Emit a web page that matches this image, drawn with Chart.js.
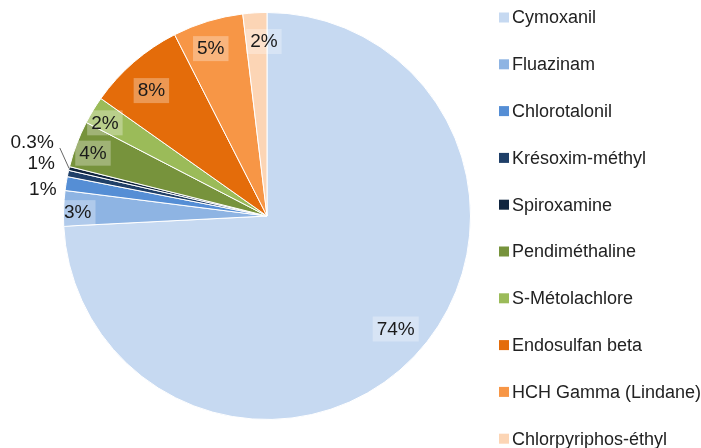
<!DOCTYPE html>
<html>
<head>
<meta charset="utf-8">
<script src="https://cdn.jsdelivr.net/npm/chart.js@4.4.1/dist/chart.umd.min.js"></script>
<style>
  html, body { margin: 0; padding: 0; background: #fff; }
  #wrap { width: 701px; height: 448px; position: relative; }
</style>
</head>
<body>
<div id="wrap"><canvas id="pie"></canvas></div>
<script>
// données
const substances = ['Cymoxanil', 'Fluazinam', 'Chlorotalonil', 'Krésoxim-méthyl', 'Spiroxamine',
    'Pendiméthaline', 'S-Métolachlore', 'Endosulfan beta', 'HCH Gamma (Lindane)', 'Chlorpyriphos-éthyl'];
const shares = [74.2, 2.8, 1.1, 0.5, 0.3, 3.7, 2.2, 7.7, 5.6, 1.9];
const shareLabels = ['74%', '3%', '1%', '1%', '0.3%', '4%', '2%', '8%', '5%', '2%'];
const colors = ['#C6D9F1', '#8EB4E3', '#558ED5', '#1F3F68', '#10253F',
    '#77933C', '#9BBB59', '#E46C0A', '#F79646', '#FCD5B5'];

// placement des étiquettes (fraction du rayon, décalage angulaire en degrés)
const labelPlace = [
    { r: 0.84, da: -2.4 }, { r: 0.93, da: -1 },
    { r: 1.11, da: -2.2, out: true }, { r: 1.14, da: 1.2, out: true }, { r: 1.21, da: 4, out: true, leader: true },
    { r: 0.91, da: -0.7 }, { r: 0.92, da: -1.3 }, { r: 0.84, da: -1.7 }, { r: 0.87, da: -1.6 }, { r: 0.86, da: 2.4 }
];

const FONT = '"Liberation Sans", Arial, sans-serif';

const sliceLabels = {
    id: 'sliceLabels',
    afterDatasetsDraw(chart) {
        const ctx = chart.ctx;
        const meta = chart.getDatasetMeta(0);
        ctx.save();
        ctx.font = '19px ' + FONT;
        ctx.textAlign = 'center';
        ctx.textBaseline = 'middle';
        meta.data.forEach((arc, i) => {
            const p = labelPlace[i];
            const mid = (arc.startAngle + arc.endAngle) / 2 + (p.da || 0) * Math.PI / 180;
            const x = arc.x + Math.cos(mid) * arc.outerRadius * p.r;
            const y = arc.y + Math.sin(mid) * arc.outerRadius * p.r;
            const txt = shareLabels[i];
            const w = ctx.measureText(txt).width;
            if (!p.out) {
                ctx.fillStyle = 'rgba(255,255,255,0.3)';
                ctx.fillRect(x - w / 2 - 4, y - 12, w + 8, 25);
            }
            if (p.leader) {
                const a2 = (arc.startAngle + arc.endAngle) / 2;
                ctx.strokeStyle = '#666';
                ctx.lineWidth = 1;
                ctx.beginPath();
                ctx.moveTo(x + w / 2 + 6, y + 6);
                ctx.lineTo(arc.x + Math.cos(a2) * arc.outerRadius, arc.y + Math.sin(a2) * arc.outerRadius);
                ctx.stroke();
            }
            ctx.fillStyle = '#1a1a1a';
            ctx.fillText(txt, x, y + 1);
        });
        ctx.restore();
    }
};

const sideLegend = {
    id: 'sideLegend',
    afterDraw(chart) {
        const ctx = chart.ctx;
        const ds = chart.data.datasets[0];
        ctx.save();
        ctx.font = '18px ' + FONT;
        ctx.textBaseline = 'middle';
        chart.data.labels.forEach((lab, i) => {
            const y = 17.5 + i * 46.8;
            ctx.fillStyle = ds.backgroundColor[i];
            ctx.fillRect(499, y - 5, 10, 10);
            ctx.fillStyle = '#222';
            ctx.fillText(lab, 512, y + 1);
        });
        ctx.restore();
    }
};

new Chart(document.getElementById('pie'), {
    type: 'pie',
    data: {
        labels: substances,
        datasets: [{
            data: shares,
            backgroundColor: colors,
            borderColor: '#fff',
            borderWidth: 1
        }]
    },
    options: {
        responsive: true,
        maintainAspectRatio: false,
        animation: false,
        layout: { padding: { left: 63, right: 230, top: 12, bottom: 28 } },
        plugins: {
            legend: { display: false },
            tooltip: { enabled: false }
        }
    },
    plugins: [sliceLabels, sideLegend]
});
</script>
</body>
</html>
